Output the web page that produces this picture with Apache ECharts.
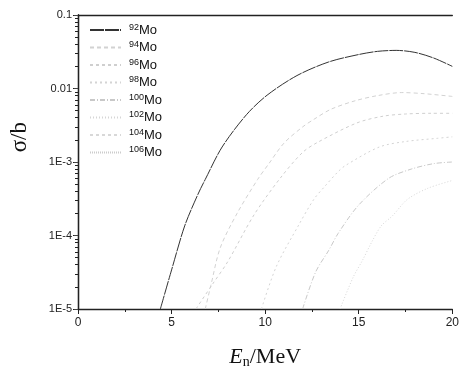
<!DOCTYPE html>
<html><head><meta charset="utf-8">
<script src="https://cdn.jsdelivr.net/npm/echarts@6/dist/echarts.min.js"></script>
<style>html,body{margin:0;padding:0;background:#fff;overflow:hidden}#c{width:462px;height:374px}</style>
</head><body><div id="c"></div>
<script>
// ---- data ----
var isotopes = ['92', '94', '96', '98', '100', '102', '104', '106'];
var xTickLabels = ['0', '5', '10', '15', '20'];
var yTickLabels = ['1E-5', '1E-4', '1E-3', '0.01', '0.1'];

var mo92E = [4.4, 5.0, 5.7, 6.4, 6.8, 7.7, 9.0, 10.1, 11.7, 13.4, 15.0, 16.0, 17.0, 18.0, 19.0, 20.0];
var mo92S = [1e-5, 3.4e-5, 1.35e-4, 3.6e-4, 5.8e-4, 1.6e-3, 4.4e-3, 8.1e-3, 0.015, 0.023, 0.029, 0.032, 0.033, 0.031, 0.026, 0.020];

var mo94E = [6.8, 7.1, 7.6, 8.5, 9.6, 10.2, 11.0, 12.0, 12.6, 13.5, 14.8, 16.0, 17.3, 18.5, 20.0];
var mo94S = [1e-5, 2.1e-5, 6.8e-5, 2.0e-4, 5.8e-4, 9.5e-4, 1.8e-3, 3.0e-3, 3.8e-3, 5.2e-3, 6.8e-3, 8.0e-3, 8.8e-3, 8.5e-3, 7.8e-3];

var mo96E = [6.3, 7.2, 8.0, 9.4, 10.8, 12.0, 12.8, 14.9, 16.3, 17.5, 18.9, 20.0];
var mo96S = [1e-5, 2.2e-5, 4.4e-5, 1.9e-4, 6.0e-4, 1.35e-3, 1.85e-3, 3.4e-3, 4.2e-3, 4.5e-3, 4.6e-3, 4.6e-3];

var mo98E = [9.8, 10.6, 11.8, 12.6, 13.2, 13.9, 14.3, 16.1, 17.5, 19.2, 20.0];
var mo98S = [1e-5, 3.8e-5, 1.4e-4, 3.1e-4, 4.7e-4, 7.4e-4, 9.0e-4, 1.6e-3, 1.9e-3, 2.1e-3, 2.2e-3];

var mo100E = [12.0, 12.7, 13.4, 13.9, 15.0, 16.6, 17.8, 19.0, 20.0];
var mo100S = [1e-5, 3.2e-5, 6.3e-5, 1.07e-4, 2.6e-4, 6.0e-4, 8.0e-4, 9.5e-4, 1.0e-3];

var mo102E = [14.0, 14.7, 15.2, 15.7, 16.2, 16.8, 17.6, 18.7, 20.0];
var mo102S = [1e-5, 2.7e-5, 4.6e-5, 8.2e-5, 1.35e-4, 1.85e-4, 3.1e-4, 4.4e-4, 5.6e-4];

var mo104E = [];
var mo104S = [];
var mo106E = [];
var mo106S = [];

// ---- build ----
function pairs(e, s) { return e.map(function (x, i) { return [x, s[i]]; }); }
var dataSets = [pairs(mo92E, mo92S), pairs(mo94E, mo94S), pairs(mo96E, mo96S), pairs(mo98E, mo98S),
  pairs(mo100E, mo100S), pairs(mo102E, mo102S), pairs(mo104E, mo104S), pairs(mo106E, mo106S)];
var styles = [
  {color: '#333', type: [14, 1], width: 1},
  {color: '#d2d2d2', type: [4, 3], width: 1},
  {color: '#cfcfcf', type: [3, 3], width: 1},
  {color: '#d4d4d4', type: [2, 3], width: 1},
  {color: '#c8c8c8', type: [5, 2, 1, 2], width: 1},
  {color: '#d6d6d6', type: [1, 2], width: 1},
  {color: '#d8d8d8', type: [3, 3], width: 1},
  {color: '#cccccc', type: [1, 1], width: 1}
];
var series = isotopes.map(function (iso, i) {
  return {
    name: iso, type: 'line', data: dataSets[i], showSymbol: false, symbol: 'none', symbolSize: 0,
    lineStyle: styles[i], itemStyle: {color: styles[i].color}, smooth: 0.3, clip: true,
    xAxisIndex: 0, yAxisIndex: 0
  };
});
function yFmt(v) { var k = Math.round(Math.log10(v)) + 5; return yTickLabels[k] || ''; }
function xFmt(v) { var k = Math.round(v / 5); return xTickLabels[k] || ''; }

var chart = echarts.init(document.getElementById('c'), null, {renderer: 'canvas'});
var axisLine = {show: true, lineStyle: {color: '#222', width: 1.3}};
chart.setOption({
  animation: false,
  backgroundColor: '#fff',
  grid: {left: 78, right: 4, top: 15, bottom: 60, containLabel: false},
  legend: {
    orient: 'vertical', left: 84, top: 18, itemGap: 4, itemWidth: 31, itemHeight: 10,
    data: isotopes,
    itemStyle: {opacity: 0},
    formatter: function (n) { return '{s|' + n + '}{m|Mo}'; },
    textStyle: {
      fontFamily: 'Liberation Sans', color: '#111', padding: [0, 0, 0, 3],
      rich: {
        s: {fontSize: 9, fontFamily: 'Liberation Sans', color: '#111', padding: [0, 0, 5, 0]},
        m: {fontSize: 13, fontFamily: 'Liberation Sans', color: '#111'}
      }
    }
  },
  xAxis: [{
    type: 'value', min: 0, max: 20, interval: 5, position: 'bottom',
    axisLine: axisLine,
    axisTick: {show: true, inside: false, length: 5, lineStyle: {color: '#222'}},
    minorTick: {show: true, splitNumber: 2, length: 3, lineStyle: {color: '#222'}},
    splitLine: {show: false},
    axisLabel: {formatter: xFmt, fontSize: 12, fontFamily: 'Liberation Sans', color: '#222', margin: 8},
    name: '{i|E}{b|n}{r|/MeV}', nameLocation: 'middle', nameGap: 36,
    nameTextStyle: {
      rich: {
        i: {fontSize: 22, fontFamily: 'Liberation Serif', fontStyle: 'italic', color: '#111'},
        b: {fontSize: 14, fontFamily: 'Liberation Serif', color: '#111', padding: [10, 0, 0, 0]},
        r: {fontSize: 22, fontFamily: 'Liberation Serif', color: '#111'}
      }
    }
  }, {
    type: 'value', min: 0, max: 20, interval: 5, position: 'top',
    axisLine: axisLine, axisTick: {show: false}, axisLabel: {show: false}, splitLine: {show: false}
  }],
  yAxis: [{
    type: 'log', logBase: 10, min: 1e-5, max: 0.1, position: 'left',
    axisLine: axisLine,
    axisTick: {show: true, inside: false, length: 5, lineStyle: {color: '#222'}},
    minorTick: {show: true, splitNumber: 9, length: 3, lineStyle: {color: '#222'}},
    splitLine: {show: false},
    axisLabel: {formatter: yFmt, fontSize: 11, fontFamily: 'Liberation Sans', color: '#222', margin: 6}
  }, {
    type: 'log', logBase: 10, min: 1e-5, max: 0.1, position: 'right',
    axisLine: axisLine,
    axisTick: {show: true, inside: true, length: 4, lineStyle: {color: '#444'}},
    minorTick: {show: false},
    axisLabel: {show: false}, splitLine: {show: false}
  }],
  graphic: [{
    type: 'text', left: 8, top: 122, rotation: Math.PI / 2,
    style: {text: 'σ/b', font: '23px "Liberation Serif"', fill: '#111'}
  }],
  series: series
});
</script></body></html>
